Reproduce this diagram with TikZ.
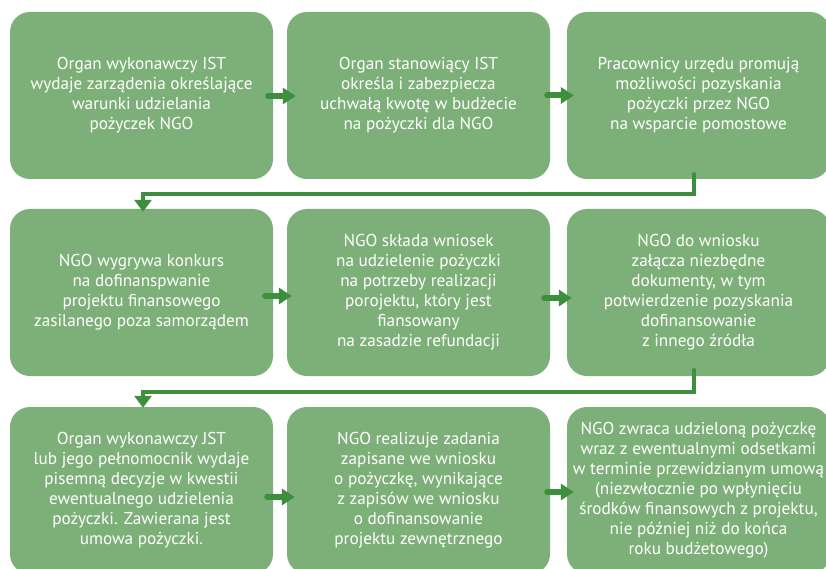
\documentclass[tikz,border=0pt]{standalone}
\usepackage{fontspec}
\setmainfont{PT Sans}
\usetikzlibrary{arrows.meta}
\definecolor{boxgreen}{HTML}{7DB078}
\definecolor{arrgreen}{HTML}{3D8E3D}
\begin{document}
\begin{tikzpicture}[x=1pt,y=-1pt,
  box/.style={rectangle, rounded corners=20pt, fill=boxgreen, draw=none,
    minimum width=263pt, minimum height=167pt, inner sep=0pt, align=center,
    text=white, font=\fontsize{17.2}{20}\selectfont},
  harr/.style={draw=arrgreen, line width=6pt, line cap=round,
    -{Triangle[length=13pt,width=16pt]}},
  conn/.style={draw=arrgreen, line width=4.5pt, line cap=round,
    -{Triangle[length=12pt,width=17pt]}}]
\useasboundingbox (0,0) rectangle (826,569);
\fill[white] (0,0) rectangle (826,569);
% row 1
\node[box] (b1) at (141.5,95.5) {Organ wykonawczy IST\\wydaje zarządenia określające\\warunki udzielania\\pożyczek NGO};
\node[box] (b2) at (418.5,95.5) {Organ stanowiący IST\\określa i zabezpiecza\\uchwałą kwotę w budżecie\\na pożyczki dla NGO};
\node[box] (b3) at (698.5,95.5) {Pracownicy urzędu promują\\możliwości pozyskania\\pożyczki przez NGO\\na wsparcie pomostowe};
% row 2
\node[box] (b4) at (141.5,292.5) {NGO wygrywa konkurs\\na dofinanspwanie\\projektu finansowego\\zasilanego poza samorządem};
\node[box] (b5) at (418.5,292.5) {NGO składa wniosek\\na udzielenie pożyczki\\na potrzeby realizacji\\porojektu, który jest\\fiansowany\\na zasadzie refundacji};
\node[box] (b6) at (698.5,292.5) {NGO do wniosku\\załącza niezbędne\\dokumenty, w tym\\potwierdzenie pozyskania\\dofinansowanie\\z innego źródła};
% row 3
\node[box] (b7) at (141.5,490.5) {Organ wykonawczy JST\\lub jego pełnomocnik wydaje\\pisemną decyzje w kwestii\\ewentualnego udzielenia\\pożyczki. Zawierana jest\\umowa pożyczki.};
\node[box] (b8) at (418.5,490.5) {NGO realizuje zadania\\zapisane we wniosku\\o pożyczkę, wynikające\\z zapisów we wniosku\\o dofinansowanie\\projektu zewnętrznego};
\node[box] (b9) at (698.5,490.5) {NGO zwraca udzieloną pożyczkę\\wraz z ewentualnymi odsetkami\\w terminie przewidzianym umową\\(niezwłocznie po wpłynięciu\\środków finansowych z projektu,\\nie później niż do końca\\roku budżetowego)};
% horizontal arrows
\draw[harr] ([xshift=-5pt,yshift=-0.5pt]b1.east) -- ([xshift=9pt,yshift=-0.5pt]b2.west);
\draw[harr] ([xshift=-3pt]b2.east) -- ([xshift=7pt]b3.west);
\draw[harr] ([xshift=-8pt,yshift=-3.5pt]b4.east) -- ([xshift=5pt,yshift=-3.5pt]b5.west);
\draw[harr] ([xshift=-6pt,yshift=-5.5pt]b5.east) -- ([xshift=5pt,yshift=-5.5pt]b6.west);
\draw[harr] ([xshift=-6pt,yshift=-6.5pt]b7.east) -- ([xshift=8pt,yshift=-6.5pt]b8.west);
\draw[harr] ([xshift=-3pt,yshift=-1.5pt]b8.east) -- ([xshift=7pt,yshift=-1.5pt]b9.west);
% row connectors
\draw[conn] ([xshift=-4.5pt,yshift=5pt]b3.south) -- ++(0,20) -| ([xshift=1.5pt,yshift=-3pt]b4.north);
\draw[conn] ([xshift=-4.5pt,yshift=6pt]b6.south) -- ++(0,22) -| ([xshift=1.5pt,yshift=-1pt]b7.north);
\end{tikzpicture}
\end{document}
